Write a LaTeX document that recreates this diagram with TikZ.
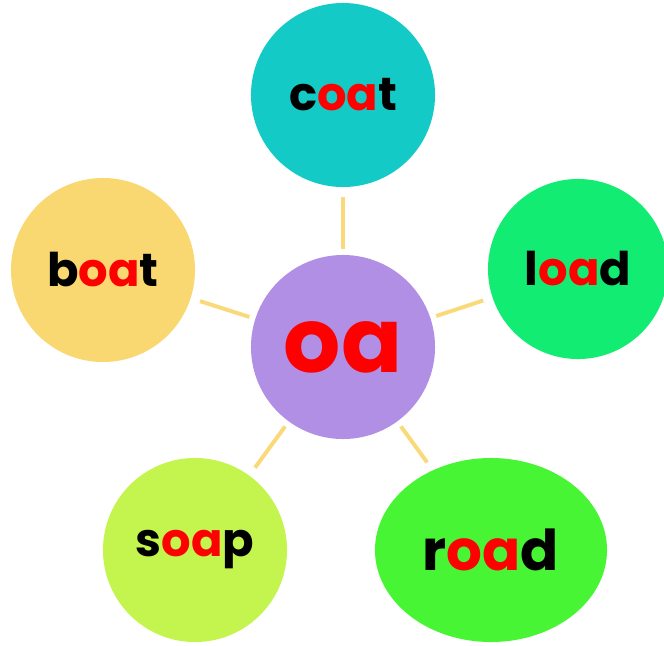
\documentclass[tikz,border=0pt]{standalone}
\usepackage{fontspec}
\setmainfont{Poppins}
\usetikzlibrary{shapes.geometric}
\definecolor{midpurple}{RGB}{177,143,229}
\definecolor{coatteal}{RGB}{20,202,198}
\definecolor{boatyellow}{RGB}{249,216,114}
\definecolor{loadgreen}{RGB}{18,236,114}
\definecolor{soaplime}{RGB}{195,245,78}
\definecolor{roadgreen}{RGB}{72,245,52}
\definecolor{linkyellow}{RGB}{249,217,122}
\newcommand{\redoa}{\textcolor{red}{oa}}
\begin{document}
\begin{tikzpicture}[x=0.025cm,y=-0.025cm]
  \tikzset{font={\bfseries\fontsize{33pt}{38pt}\selectfont}}
  \tikzset{bubble/.style={circle,minimum size=4.6cm,inner sep=0pt}}
  \tikzset{link/.style={draw=linkyellow,line width=2.8pt,shorten <=0.15cm,shorten >=0.24cm}}
  \useasboundingbox (0,0) rectangle (664,645);
  \clip (0,0) rectangle (664,645);
  % centre
  \node[bubble,fill=midpurple] (oa) at (343,347)
    {\fontsize{64pt}{72pt}\selectfont\redoa};
  % words
  \node[bubble,fill=coatteal] (coat) at (343,95) {c\redoa t};
  \node[bubble,fill=boatyellow] (boat) at (103,270) {b\redoa t};
  \node[bubble,fill=loadgreen,minimum size=4.5cm] (load) at (578,269) {l\redoa d};
  \node[bubble,fill=soaplime] (soap) at (195,550) {s\redoa p};
  \node[ellipse,fill=roadgreen,minimum width=5.8cm,minimum height=4.6cm,inner sep=0pt]
    (road) at (491,550) {\fontsize{40pt}{46pt}\selectfont r\redoa d};
  % links
  \draw[link] (oa) -- (coat);
  \draw[link] (oa) -- (boat);
  \draw[link] (oa) -- (load);
  \draw[link] (oa) -- (soap);
  \draw[link] (oa) -- (road);
\end{tikzpicture}
\end{document}
